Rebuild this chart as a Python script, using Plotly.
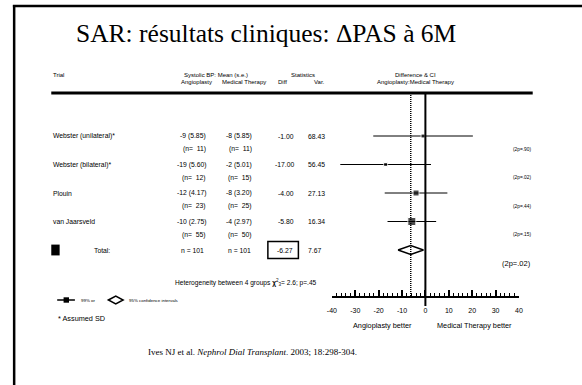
import plotly.graph_objects as go

W, H = 582, 385

# ---------------- data ----------------
trials = ["Webster (unilateral)*", "Webster (bilateral)*", "Plouin", "van Jaarsveld"]
angio_mean = [-9, -19, -12, -10]
angio_se = [5.85, 5.60, 4.17, 2.75]
angio_n = [11, 12, 23, 55]
med_mean = [-8, -2, -8, -4]
med_se = [5.85, 5.01, 3.20, 2.97]
med_n = [11, 15, 25, 50]
diff = [-1.00, -17.00, -4.00, -5.80]
var = [68.43, 56.45, 27.13, 16.34]
ci_low = [-22.3, -36.4, -17.4, -16.2]     # 99% CI ends
ci_high = [20.3, 2.4, 9.4, 4.6]
p_two = [".90", ".02", ".44", ".15"]
weight_size = [4, 4, 6, 8]

total_n_angio = 101
total_n_med = 101
total_diff = -6.27
total_var = 7.67
total_ci_low = -11.7                         # 95% CI ends
total_ci_high = -0.84
total_p = ".02"
chi2 = 2.6
chi2_p = ".45"

tick_vals = [-40, -30, -20, -10, 0, 10, 20, 30, 40]
tick_labels = ["-40", "-30", "-20", "-10", "0", "10", "20", "30", "40"]

# ---------------- layout helpers ----------------
SANS = "Liberation Sans, Arial, sans-serif"
SERIF = "Liberation Serif, Times New Roman, serif"
ROW0 = 136.0
STEP = 28.5
NOFF = 13.0 / STEP  # offset of the (n=) line in row units


def px(x):
    return x / W


def py(y):
    return 1 - y / H


annotations = []


def txt(x, y, s, size, xanchor="left", yref="paper", family=SANS, color="black"):
    annotations.append(dict(
        x=px(x), y=(py(y) if yref == "paper" else y), xref="paper", yref=yref,
        text=s, showarrow=False, xanchor=xanchor, yanchor="middle",
        font=dict(family=family, size=size, color=color)))


fig = go.Figure()

# CI lines
xs, ys = [], []
for i in range(len(trials)):
    xs += [ci_low[i], ci_high[i], None]
    ys += [i, i, None]
fig.add_trace(go.Scatter(x=xs, y=ys, mode="lines", line=dict(color="black", width=1),
                         hoverinfo="skip", showlegend=False))
# squares
fig.add_trace(go.Scatter(x=diff, y=list(range(len(trials))), mode="markers",
                         marker=dict(symbol="square", size=weight_size, color="black"),
                         showlegend=False))
# total diamond
ti = len(trials)
h = 0.16
fig.add_trace(go.Scatter(
    x=[total_ci_low, total_diff, total_ci_high, total_diff, total_ci_low],
    y=[ti, ti - h, ti, ti + h, ti], mode="lines", fill="toself",
    fillcolor="white", line=dict(color="black", width=1.5), showlegend=False))

shapes = []
# frame (top + left)
shapes.append(dict(type="line", xref="paper", yref="paper", x0=px(8), x1=1.02, y0=py(6), y1=py(6),
                   line=dict(color="black", width=2.5)))
shapes.append(dict(type="line", xref="paper", yref="paper", x0=px(9.3), x1=px(9.3), y0=py(5), y1=-0.02,
                   line=dict(color="black", width=2.5)))
# header rule
shapes.append(dict(type="line", xref="paper", yref="paper", x0=px(47), x1=px(536), y0=py(93), y1=py(93),
                   line=dict(color="black", width=3)))
# zero line
shapes.append(dict(type="line", xref="x", yref="paper", x0=0, x1=0, y0=py(93), y1=py(306),
                   line=dict(color="black", width=2)))
# dotted line at overall effect
shapes.append(dict(type="line", xref="x", yref="paper", x0=total_diff, x1=total_diff, y0=py(95), y1=py(296),
                   line=dict(color="black", width=1.5, dash="1px,1px")))
# box around total diff
shapes.append(dict(type="rect", xref="paper", yref="y", x0=px(267), x1=px(298), y0=ti - 0.3, y1=ti + 0.3,
                   line=dict(color="black", width=1.5)))
# black square at Total
shapes.append(dict(type="rect", xref="paper", yref="y", x0=px(47), x1=px(55.5), y0=ti - 0.19, y1=ti + 0.19,
                   line=dict(width=0), fillcolor="black"))
# legend keys
shapes.append(dict(type="line", xref="paper", yref="paper", x0=px(53), x1=px(71), y0=py(300), y1=py(300),
                   line=dict(color="black", width=1.5)))
shapes.append(dict(type="rect", xref="paper", yref="paper", x0=px(59.5), x1=px(65), y0=py(297.3), y1=py(302.7),
                   line=dict(width=0), fillcolor="black"))
shapes.append(dict(type="path", xref="paper", yref="paper",
                   path="M {} {} L {} {} L {} {} L {} {} Z".format(px(105), py(300), px(112.5), py(296),
                                                                    px(120), py(300), px(112.5), py(304)),
                   line=dict(color="black", width=1.5), fillcolor="white"))
for s in shapes:
    s.setdefault("layer", "above")

# ---------------- text ----------------
txt(265, 33, "SAR: résultats cliniques: ΔPAS à 6M", 25.5, "center", family=SERIF)

HS = 6
txt(47, 75, "Trial", HS)
txt(214, 75, "Systolic BP: Mean (s.e.)", HS, "center")
txt(177, 82, "Angioplasty", HS)
txt(218, 82, "Medical Therapy", HS)
txt(303, 75, "Statistics", HS, "center")
txt(275, 82, "Diff", HS)
txt(312, 82, "Var.", HS)
txt(417, 75, "Difference &amp; CI", HS, "center")
txt(417, 82, "Angioplasty:Medical Therapy", HS, "center")

RS = 6.8
for i in range(len(trials)):
    txt(47, i, trials[i], RS, yref="y")
    txt(206, i, "{} ({:.2f})".format(angio_mean[i], angio_se[i]), RS, "right", yref="y")
    txt(206, i + NOFF, "(n=\u00a0 {})".format(angio_n[i]), RS, "right", yref="y")
    txt(253, i, "{} ({:.2f})".format(med_mean[i], med_se[i]), RS, "right", yref="y")
    txt(253, i + NOFF, "(n=\u00a0 {})".format(med_n[i]), RS, "right", yref="y")
    txt(296, i, "{:.2f}".format(diff[i]), RS, "right", yref="y")
    txt(306, i, "{:.2f}".format(var[i]), RS, yref="y")
    txt(525, i + NOFF, "(2p={})".format(p_two[i]), 4.8, "center", yref="y")

txt(88, ti, "Total:", RS, yref="y")
txt(190, ti, "n = {}".format(total_n_angio), RS, "center", yref="y")
txt(238, ti, "n = {}".format(total_n_med), RS, "center", yref="y")
txt(295, ti, "{:.2f}".format(total_diff), RS, "right", yref="y")
txt(306, ti, "{:.2f}".format(total_var), RS, yref="y")
txt(520, ti + NOFF, "(2p={})".format(total_p), 7.5, "center", yref="y")

txt(171, 282, "Heterogeneity between 4 groups <b>χ</b>"
               "<sup>2</sup><sub>3</sub>= {}; p={}".format(chi2, chi2_p), 6.6)
txt(75, 300, "99% or", 4.4)
txt(124, 300, "95% confidence intervals", 4.4)
txt(52, 318, "* Assumed SD", 7.3)

txt(383, 325, "Angioplasty better", 7.3, "center")
txt(477, 325, "Medical Therapy better", 7.3, "center")

txt(143, 352, "Ives NJ et al. <i>Nephrol Dial Transplant</i>. 2003; 18:298-304.", 9, family=SERIF)

fig.update_layout(
    width=W, height=H, margin=dict(l=0, r=0, t=0, b=0),
    paper_bgcolor="white", plot_bgcolor="white", showlegend=False,
    shapes=shapes, annotations=annotations,
    xaxis=dict(domain=[px(332), px(522)], range=[-40, 40], anchor="free", position=py(297),
               showline=True, linewidth=2, linecolor="black", showgrid=False, zeroline=False,
               ticks="inside", ticklen=6, tickwidth=1.5, tickcolor="black",
               tickvals=tick_vals, ticktext=tick_labels, ticklabelstandoff=7,
               tickfont=dict(family=SANS, size=7, color="black"),
               minor=dict(dtick=2, ticks="inside", ticklen=3, tickwidth=1, tickcolor="black", showgrid=False)),
    yaxis=dict(domain=[0, 1], range=[(H - ROW0) / STEP, -ROW0 / STEP], visible=False,
               showgrid=False, zeroline=False),
)

fig.write_html("out.html", config={"displayModeBar": False},
               post_script="document.body.style.margin='0px';document.body.style.overflow='hidden';")
